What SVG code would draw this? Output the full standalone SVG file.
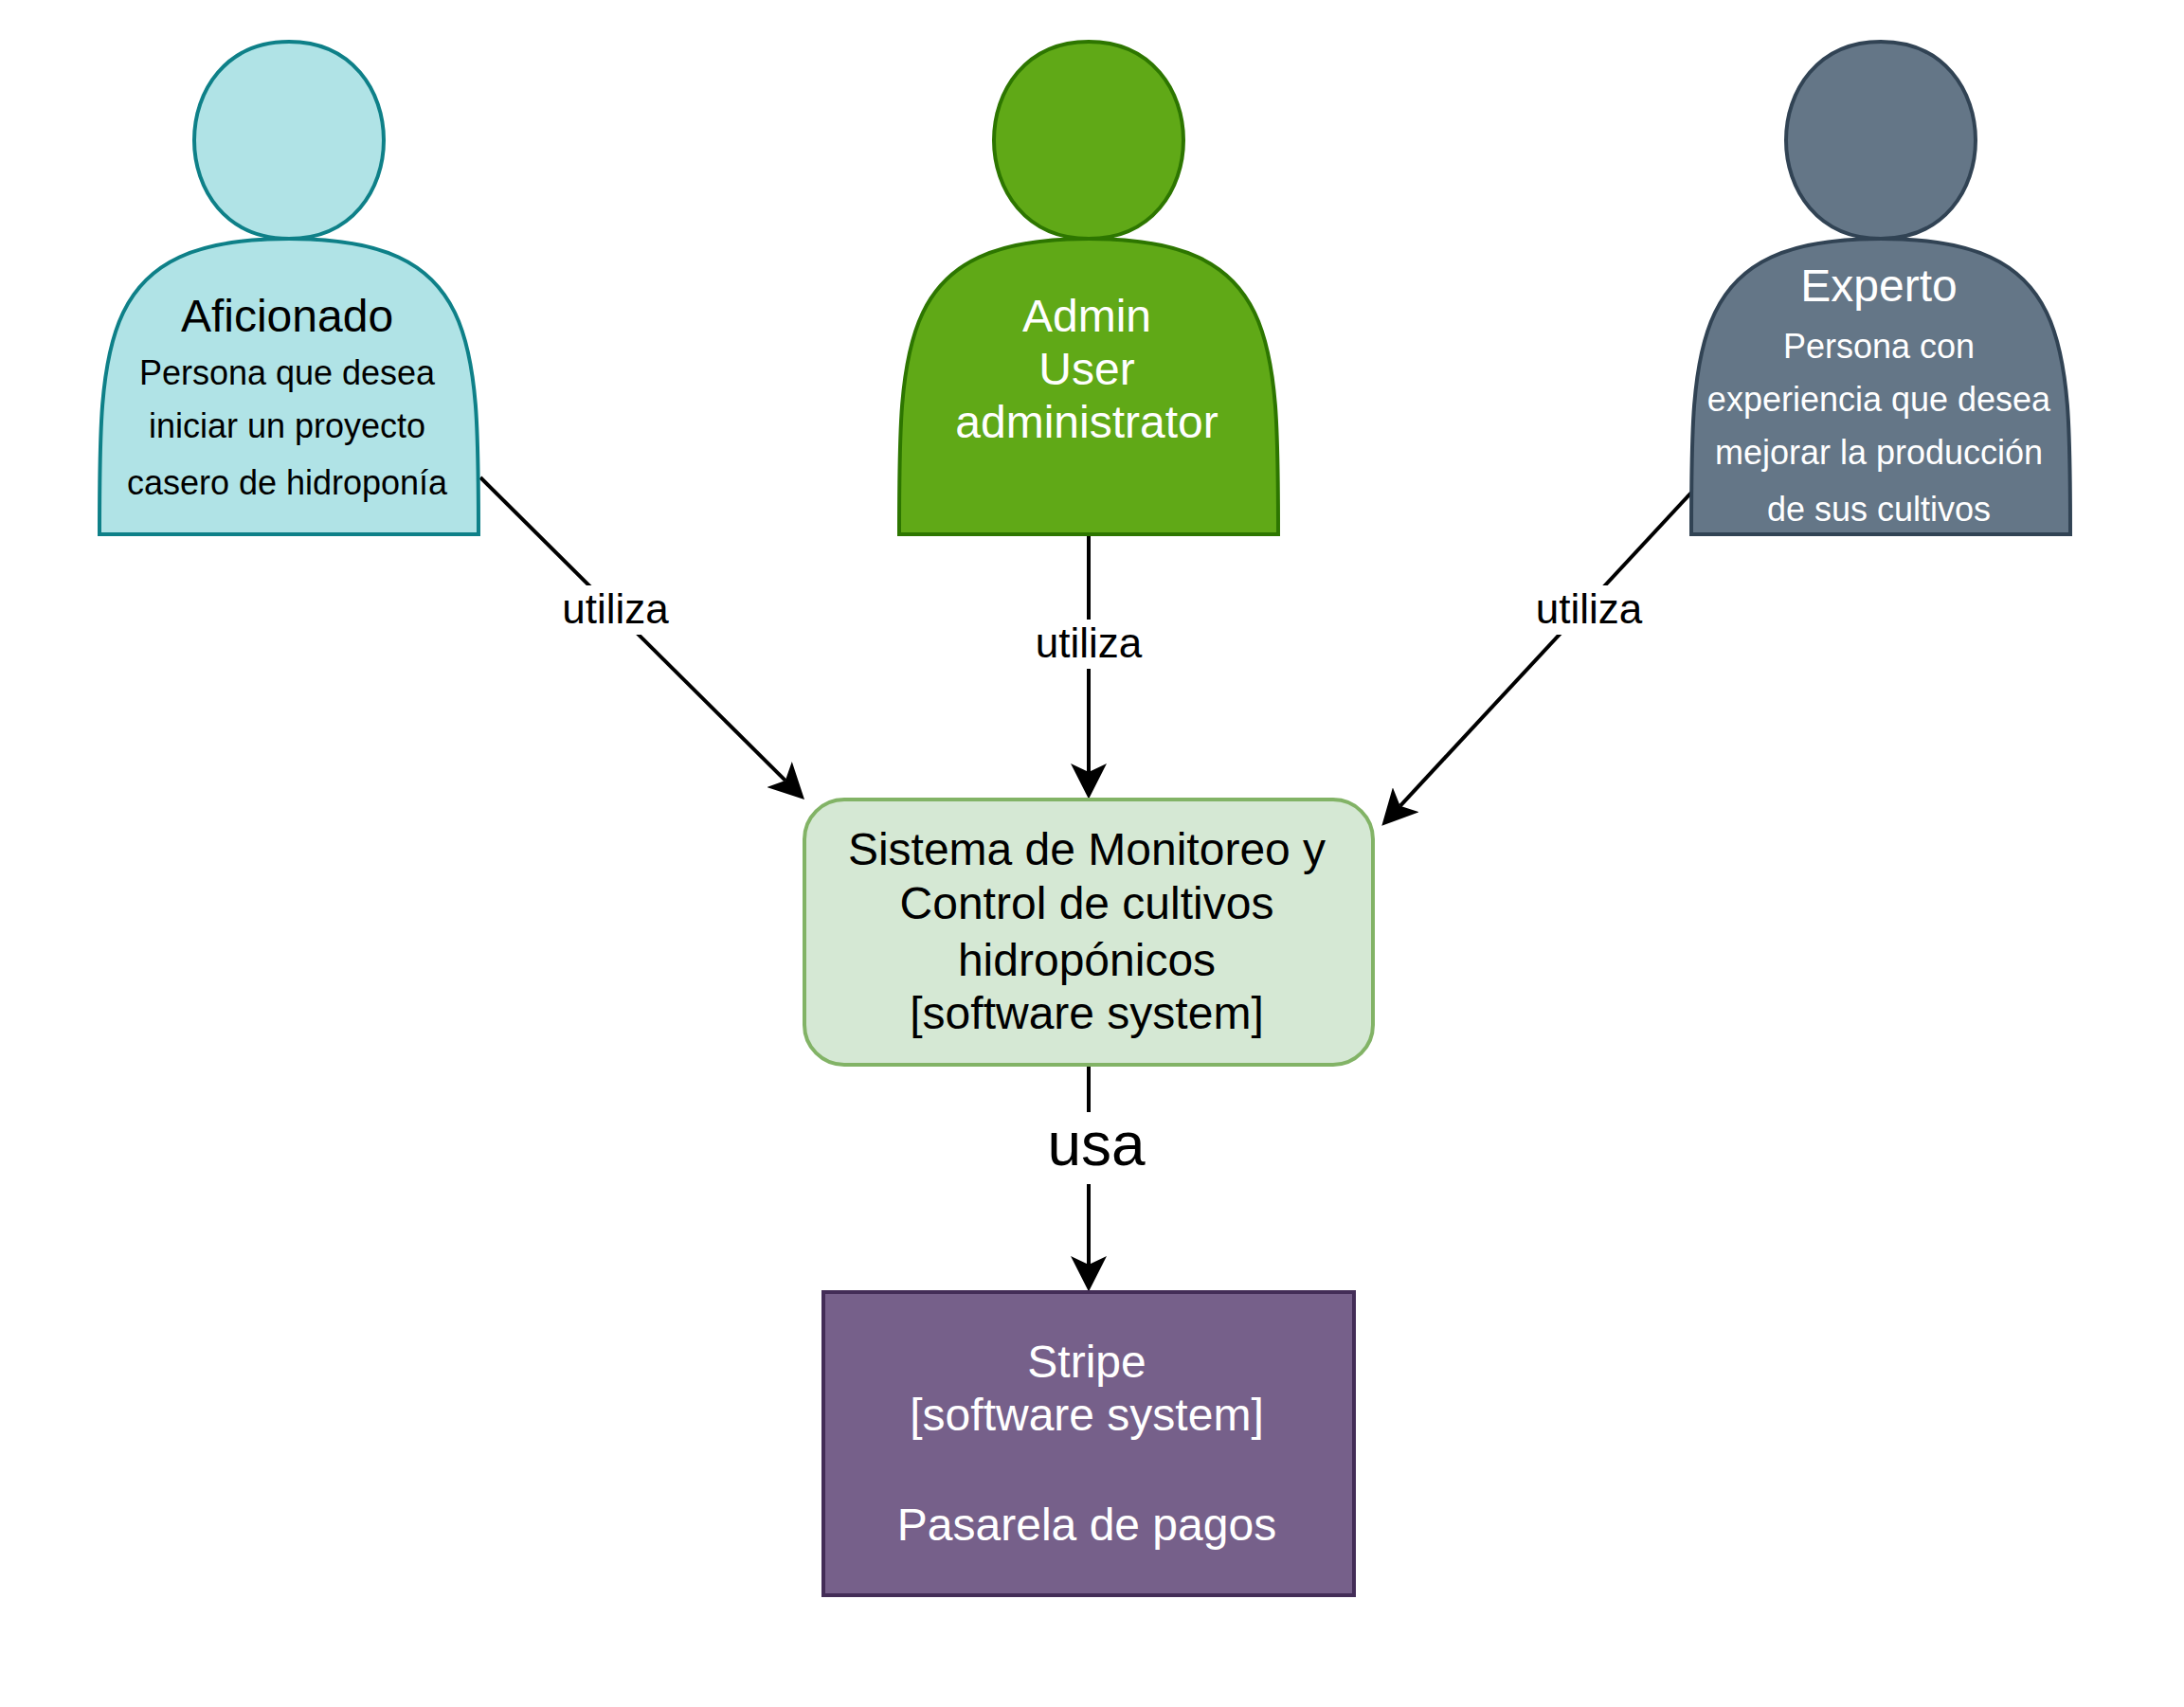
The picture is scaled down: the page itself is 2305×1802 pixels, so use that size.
<svg xmlns="http://www.w3.org/2000/svg" width="2305" height="1802" viewBox="0 0 2305 1802">
  <style>
    text { font-family: "Liberation Sans", Arial, Helvetica, sans-serif; text-anchor: middle; }
    .big { font-size: 48px; }
    .small { font-size: 36px; }
    .label { font-size: 44px; fill: #000000; }
    .usa { font-size: 64px; fill: #000000; }
    .dark { fill: #000000; }
    .light { fill: #ffffff; }
    .shape { stroke-width: 4; stroke-miterlimit: 10; }
    .edge { fill: none; stroke: #000000; stroke-width: 4; stroke-miterlimit: 10; }
    .labelbg { fill: #ffffff; }
  </style>
  <defs>
    <marker id="arrow" markerUnits="userSpaceOnUse" viewBox="0 0 38 38" markerWidth="38" markerHeight="38" refX="9" refY="19" orient="auto">
      <path d="M37.5,19 L0,0 L9,19 L0,38 Z" fill="#000000"/>
    </marker>
  </defs>
  <rect x="0" y="0" width="2305" height="1802" fill="#ffffff"/>

  <g id="connectors">
    <g id="edge-aficionado">
      <path class="edge" d="M507,504 L828.8,823.9" marker-end="url(#arrow)"/>
      <rect class="labelbg" x="592" y="618" width="116" height="52"/>
      <text class="label" x="649.5" y="658">utiliza</text>
    </g>
    <g id="edge-admin">
      <path class="edge" d="M1149,564 L1149,815" marker-end="url(#arrow)"/>
      <rect class="labelbg" x="1091" y="654" width="116" height="52"/>
      <text class="label" x="1149" y="694">utiliza</text>
    </g>
    <g id="edge-experto">
      <path class="edge" d="M1785,520 L1477.7,850.8" marker-end="url(#arrow)"/>
      <rect class="labelbg" x="1619" y="618" width="116" height="52"/>
      <text class="label" x="1677" y="658">utiliza</text>
    </g>
    <g id="edge-usa">
      <path class="edge" d="M1149,1124 L1149,1335" marker-end="url(#arrow)"/>
      <rect class="labelbg" x="1103" y="1174" width="108" height="76"/>
      <text class="usa" x="1157" y="1230">usa</text>
    </g>
  </g>

  <g id="aficionado">
    <path class="shape" fill="#b0e3e6" stroke="#0e8088" d="M105,564 C105,356 105,252 305,252 C171.67,252 171.67,44 305,44 C438.33,44 438.33,252 305,252 C505,252 505,356 505,564 Z"/>
    <text class="big dark" x="303" y="350">Aficionado</text>
    <text class="small dark" x="303" y="406">Persona que desea</text>
    <text class="small dark" x="303" y="462">iniciar un proyecto</text>
    <text class="small dark" x="303" y="522">casero de hidroponía</text>
  </g>

  <g id="admin">
    <path class="shape" fill="#60a917" stroke="#2d7600" d="M949,564 C949,356 949,252 1149,252 C1015.67,252 1015.67,44 1149,44 C1282.33,44 1282.33,252 1149,252 C1349,252 1349,356 1349,564 Z"/>
    <text class="big light" x="1147" y="350">Admin</text>
    <text class="big light" x="1147" y="406">User</text>
    <text class="big light" x="1147" y="462">administrator</text>
  </g>

  <g id="experto">
    <path class="shape" fill="#647687" stroke="#314354" d="M1785,564 C1785,356 1785,252 1985,252 C1851.67,252 1851.67,44 1985,44 C2118.33,44 2118.33,252 1985,252 C2185,252 2185,356 2185,564 Z"/>
    <text class="big light" x="1983" y="318">Experto</text>
    <text class="small light" x="1983" y="378">Persona con</text>
    <text class="small light" x="1983" y="434">experiencia que desea</text>
    <text class="small light" x="1983" y="490">mejorar la producción</text>
    <text class="small light" x="1983" y="550">de sus cultivos</text>
  </g>

  <g id="sistema">
    <rect class="shape" x="849" y="844" width="600" height="280" rx="42" ry="42" fill="#d5e8d4" stroke="#82b366"/>
    <text class="big dark" x="1147" y="913">Sistema de Monitoreo y</text>
    <text class="big dark" x="1147" y="970">Control de cultivos</text>
    <text class="big dark" x="1147" y="1030">hidropónicos</text>
    <text class="big dark" x="1147" y="1086">[software system]</text>
  </g>

  <g id="stripe">
    <rect class="shape" x="869" y="1364" width="560" height="320" fill="#76608a" stroke="#432d57"/>
    <text class="big light" x="1147" y="1454">Stripe</text>
    <text class="big light" x="1147" y="1510">[software system]</text>
    <text class="big light" x="1147" y="1626">Pasarela de pagos</text>
  </g>
</svg>
